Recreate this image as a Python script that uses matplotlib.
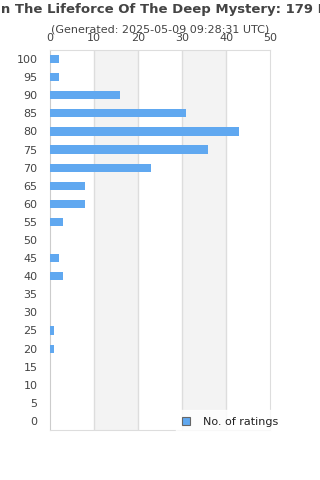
import matplotlib.pyplot as plt
from matplotlib.patches import Patch

categories = [0, 5, 10, 15, 20, 25, 30, 35, 40, 45, 50, 55, 60, 65, 70, 75, 80, 85, 90, 95, 100]
counts = [0, 0, 0, 0, 1, 1, 0, 0, 3, 2, 0, 3, 8, 8, 23, 36, 43, 31, 16, 2, 2]
xticks = [0, 10, 20, 30, 40, 50]
title = "In The Lifeforce Of The Deep Mystery: 179 Ratings"
subtitle = "(Generated: 2025-05-09 09:28:31 UTC)"

bar_color = '#60a8f0'
text_color = '#444444'

fig = plt.figure(figsize=(3.2, 4.8), dpi=100)
ax = fig.add_axes([50/320, 1-430/480, 220/320, 380/480])

pos = list(range(len(categories)))
ax.barh(pos, counts, height=0.45, color=bar_color, zorder=3)

# alternating bands
for i in range(len(xticks) - 1):
    if i % 2 == 1:
        ax.axvspan(xticks[i], xticks[i+1], color='#f3f3f3', zorder=0, lw=0)
for x in xticks[1:-1]:
    ax.axvline(x, color='#dddddd', lw=1, zorder=1)

ax.set_xlim(0, 50)
ax.set_ylim(-0.5, len(categories) - 0.5)
ax.set_xticks(xticks)
ax.set_yticks(pos)
ax.set_yticklabels([str(c) for c in categories])
ax.xaxis.tick_top()
ax.tick_params(axis='both', length=0, labelsize=8, labelcolor=text_color)
ax.tick_params(axis='x', pad=5)
ax.tick_params(axis='y', pad=9)
for s in ax.spines.values():
    s.set_color('#dddddd')
ax.spines['left'].set_color('#cccccc')

fig.text(-4/320, 1-10/480, title, ha='left', va='center', fontsize=9.5,
         fontweight='bold', color=text_color)
fig.text(0.5, 1-30/480, subtitle, ha='center', va='center', fontsize=8,
         color=text_color)

handle = Patch(facecolor=bar_color, edgecolor='#666666', lw=0.8)
leg = fig.legend([handle], ['No. of ratings'], loc='center left',
                 bbox_to_anchor=(170/320, 1-422/480), fontsize=8,
                 frameon=True, fancybox=False, handlelength=0.7, handleheight=0.7,
                 handletextpad=1.2, borderpad=0.6)
leg.get_frame().set_facecolor('white')
leg.get_frame().set_edgecolor('white')
for t in leg.get_texts():
    t.set_color('#222222')

fig.savefig('out.png', dpi=100)
